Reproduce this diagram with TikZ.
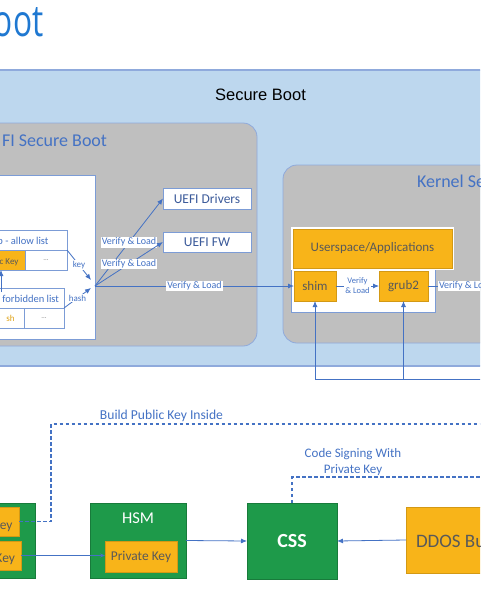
\documentclass[tikz,border=0pt]{standalone}
\usepackage{fontspec}
\usepackage{graphicx}
\setmainfont{Carlito}
\newfontfamily\arialf{Liberation Sans}
\newfontfamily\titlef{Open Sans}
\usetikzlibrary{arrows.meta}
\definecolor{lblue}{HTML}{BDD7EE}
\definecolor{bord}{HTML}{8FAADC}
\definecolor{gfill}{HTML}{BFBFBF}
\definecolor{lnblue}{HTML}{4472C4}
\definecolor{tblue}{HTML}{4472C4}
\definecolor{dblue}{HTML}{3B5A9A}
\definecolor{grn}{HTML}{1E9A4A}
\definecolor{orng}{HTML}{F8B419}
\definecolor{titleblue}{HTML}{1F78D1}
\definecolor{dgray}{HTML}{595959}
\begin{document}
\begin{tikzpicture}[x=1pt,y=-1pt,
  every node/.style={inner sep=0pt,outer sep=0pt},
  rbox/.style={draw=bord,line width=0.8pt,fill=gfill,rounded corners=14pt},
  wbox/.style={draw=lnblue!70,line width=0.7pt,fill=white},
  obox/.style={fill=orng,draw=orng!85!black,line width=0.4pt,text=dgray},
  gbox/.style={fill=grn,draw=grn!80!black,line width=0.4pt},
  arr/.style={draw=lnblue,line width=0.8pt,-{Latex[length=6pt,width=5pt]}},
  arrs/.style={draw=lnblue,line width=0.8pt,-{Stealth[length=5pt,width=4pt]}},
  ln/.style={draw=lnblue,line width=0.8pt},
  dsh/.style={draw=lnblue,line width=1.2pt,dash pattern=on 3.5pt off 2.5pt},
  lbl/.style={fill=white,text=tblue,font=\fontsize{10}{12}\selectfont,inner sep=1pt},
]
\useasboundingbox (0,0) rectangle (480,605);
\clip (0,0) rectangle (480,605);

% title
\node[anchor=base west,text=titleblue,font=\titlef\fontsize{44}{50}\selectfont] (title) at (-6,36.5) {\scalebox{0.72}[1]{oot}};

% secure boot region
\node[fill=lblue,draw=bord,line width=1.5pt,minimum width=500pt,minimum height=296pt] (sb) at (240,218) {};
\node[font=\arialf\fontsize{16.5}{20}\selectfont,anchor=base] (sbt) at (260.5,100.5) {Secure Boot};

% UEFI secure boot
\node[rbox,minimum width=277pt,minimum height=223pt] (uefi) at (118.5,234.5) {};
\node[anchor=base west,text=tblue,font=\fontsize{18}{22}\selectfont] (uefit) at (2,146) {FI Secure Boot};

% Kernel
\node[rbox,minimum width=217pt,minimum height=178pt] (kern) at (391.5,254) {};
\node[anchor=base west,text=tblue,font=\fontsize{18}{22}\selectfont] (kernt) at (417,187) {Kernel Se};

% firmware key box
\node[wbox,minimum width=105pt,minimum height=164pt] (fw) at (42.5,257) {};
\node[wbox,minimum width=77pt,minimum height=20pt] (dbh) at (28.5,240) {};
\node[anchor=base east,text=tblue,font=\fontsize{10.5}{12}\selectfont] (dbt) at (48.5,244) {b - allow list};
\node[obox,draw=lnblue!70,minimum width=35pt,minimum height=20pt] (pkc) at (7.5,260) {};
\node[anchor=base east,text=dgray,font=\fontsize{9}{11}\selectfont] (pkt) at (18.5,264) {c Key};
\node[wbox,minimum width=42pt,minimum height=20pt,text=gray,font=\fontsize{7}{8}\selectfont] (dbd) at (46,260) {...};

\node[wbox,minimum width=74pt,minimum height=20pt] (fbh) at (27,298) {};
\node[anchor=base east,text=tblue,font=\fontsize{10.5}{12}\selectfont] (fbt) at (59,302) {- forbidden list};
\node[wbox,minimum width=34pt,minimum height=20pt] (hc) at (7,318) {};
\node[anchor=base east,text=orng!90!black,font=\fontsize{9}{11}\selectfont] (hct) at (14.5,321) {sh};
\node[wbox,minimum width=40pt,minimum height=20pt,text=gray,font=\fontsize{7}{8}\selectfont] (fbd) at (44,318) {...};

\coordinate (pkin) at (1,292);
\draw[arr] (pkin) -- (pkin |- pkc.south);

% UEFI drivers / FW
\node[wbox,minimum width=88pt,minimum height=21pt,text=dblue,font=\fontsize{13.5}{16}\selectfont] (drv) at (207,198.5) {UEFI Drivers};
\node[wbox,minimum width=88pt,minimum height=20pt,text=dblue,font=\fontsize{13.5}{16}\selectfont] (fwn) at (207,242) {UEFI FW};

% kernel inner
\node[wbox,minimum width=144pt,minimum height=85pt] (kin) at (363,269.5) {};
\node[fill=white,minimum width=163pt,minimum height=43pt] (usw) at (372.5,248.5) {};
\node[obox,minimum width=159pt,minimum height=39pt,font=\fontsize{13}{16}\selectfont] (us) at (372.5,248.5) {Userspace/Applications};
\node[obox,minimum width=42pt,minimum height=30pt,font=\fontsize{13}{16}\selectfont] (shim) at (315,286) {shim};
\node[obox,minimum width=49pt,minimum height=30pt,font=\fontsize{13}{16}\selectfont] (grub) at (403.5,286) {grub2};

% hub connectors
\coordinate (hub) at (95,286);
\coordinate (hubk) at (91,280);
\coordinate (hubh) at (91,288);
\draw[arr] (dbh.south east) -- node[lbl,font=\fontsize{9}{11}\selectfont] {key} (hubk);
\draw[arr] (fbh.south east) -- node[lbl,font=\fontsize{9}{11}\selectfont] {hash} (hubh);
\draw[arr] (hub) -- node[lbl] {Verify \& Load} (drv.west);
\draw[arr] (hub) -- node[lbl] {Verify \& Load} (fwn.west);
\draw[arr] (hub) -- node[lbl] {Verify \& Load} (shim.west);
\draw[arr] (shim.east) -- node[lbl,font=\fontsize{8.5}{10}\selectfont,align=center] {Verify\\\& Load} (grub.west);
\coordinate (rend) at (490,286);
\draw[ln] (grub.east) -- (rend);
\node[lbl,anchor=west] (vl5) at (438,286) {Verify \& Lo};

% bracket from below
\coordinate (bend) at (490,379);
\draw[ln] (bend) -- (shim.south |- bend);
\draw[arr] (shim.south |- bend) -- (shim.south);
\draw[arr] (grub.south |- bend) -- (grub.south);

% bottom section
\node[gbox,minimum width=45pt,minimum height=75pt] (kp) at (12.5,540.5) {};
\node[obox,minimum width=29pt,minimum height=29pt] (pubk) at (4.5,521.5) {};
\node[anchor=base east,text=dgray,font=\fontsize{13.5}{16}\selectfont] (pubt) at (12.5,529) {ey};
\node[obox,minimum width=31pt,minimum height=29pt] (prik) at (5.5,555.5) {};
\node[anchor=base east,text=dgray,font=\fontsize{13.5}{16}\selectfont] (prit) at (15,562) {Key};

\node[gbox,minimum width=96pt,minimum height=75pt] (hsm) at (138,540.5) {};
\node[text=white,font=\fontsize{16.5}{20}\selectfont] (hsmt) at (138,518) {HSM};
\node[obox,minimum width=72pt,minimum height=31pt,font=\fontsize{13.4}{16}\selectfont] (hpk) at (141,556.5) {Private Key};

\node[gbox,minimum width=90pt,minimum height=76pt,text=white,font=\bfseries\fontsize{20}{24}\selectfont] (css) at (292,541) {CSS};
\node[obox,minimum width=94pt,minimum height=66pt] (ddos) at (453,540) {};
\node[anchor=base west,text=dgray,font=\fontsize{19}{22}\selectfont] (ddost) at (416,547) {DDOS Bu};

\draw[arr] (hsm.east) -- (css.west);
\draw[arr] (ddos.west) -- (css.east);
\draw[arrs] (prik.east) -- (prik.east -| hpk.west);

\coordinate (dc1) at (51,424);
\coordinate (dend1) at (490,424);
\draw[dsh] (pubk.east) -| (dc1) -- (dend1);
\coordinate (dend2) at (490,477);
\draw[dsh] (css.north) |- (dend2);

\node[text=tblue,font=\fontsize{13.6}{16}\selectfont,anchor=base] (bpk) at (161.5,419) {Build Public Key Inside};
\node[text=tblue,font=\fontsize{13}{16}\selectfont,align=center] (csl) at (353,462) {Code Signing With\\Private Key};
\end{tikzpicture}
\end{document}
